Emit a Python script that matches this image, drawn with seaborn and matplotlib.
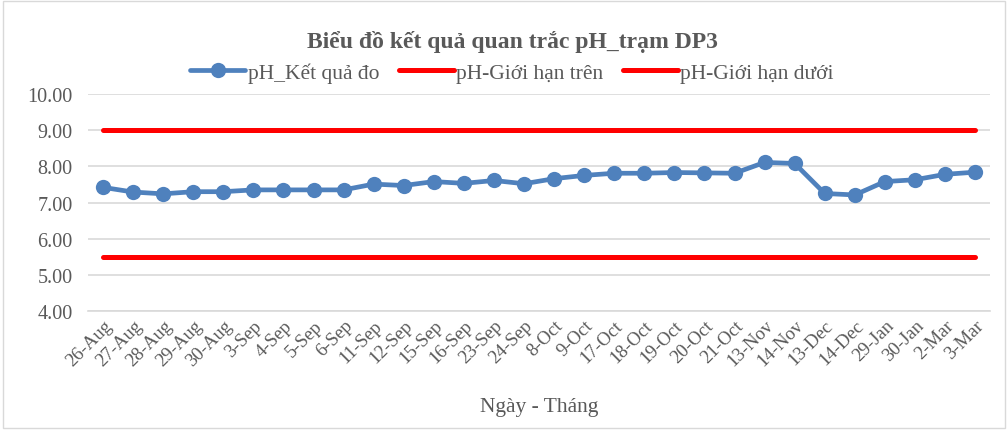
import matplotlib
matplotlib.use("Agg")
import matplotlib.pyplot as plt
import seaborn as sns
import pandas as pd

dates = ["26-Aug", "27-Aug", "28-Aug", "29-Aug", "30-Aug", "3-Sep", "4-Sep", "5-Sep",
         "6-Sep", "11-Sep", "12-Sep", "15-Sep", "16-Sep", "23-Sep", "24-Sep", "8-Oct",
         "9-Oct", "17-Oct", "18-Oct", "19-Oct", "20-Oct", "21-Oct", "13-Nov", "14-Nov",
         "13-Dec", "14-Dec", "29-Jan", "30-Jan", "2-Mar", "3-Mar"]
ph_values = [7.42, 7.29, 7.24, 7.30, 7.30, 7.35, 7.35, 7.35, 7.35, 7.51, 7.47, 7.58,
             7.53, 7.61, 7.52, 7.66, 7.75, 7.81, 7.81, 7.83, 7.82, 7.81, 8.11, 8.08,
             7.25, 7.21, 7.58, 7.63, 7.78, 7.84]
upper_limit = [9.0] * len(dates)
lower_limit = [5.5] * len(dates)
yticks = [4, 5, 6, 7, 8, 9, 10]

sns.set_theme(style="white")
plt.rcParams['font.family'] = ['Liberation Serif', 'DejaVu Serif']

df = pd.DataFrame({"idx": range(len(dates)), "date": dates, "ph": ph_values,
                   "upper": upper_limit, "lower": lower_limit})

fig = plt.figure(figsize=(10.08, 4.31), dpi=100)
ax = fig.add_axes([0.0873, 0.276, 0.895, 0.5035])

grey = "#595959"
sns.lineplot(data=df, x="idx", y="ph", ax=ax, color="#4F81BD", linewidth=3.4,
             marker="o", markersize=11, markeredgewidth=0, label="pH_Kết quả đo", zorder=3)
sns.lineplot(data=df, x="idx", y="upper", ax=ax, color="#FF0000", linewidth=3.6,
             label="pH-Giới hạn trên", zorder=2)
sns.lineplot(data=df, x="idx", y="lower", ax=ax, color="#FF0000", linewidth=3.6,
             label="pH-Giới hạn dưới", zorder=2)

ax.set_xlim(-0.5, len(dates) - 0.5)
ax.set_ylim(4, 10)
ax.set_yticks(yticks)
ax.set_yticklabels([f"{v:.2f}" for v in yticks], fontsize=14.5, color=grey)
ax.set_xticks(range(len(dates)))
ax.set_xticklabels(dates, rotation=45, ha="right", rotation_mode="anchor",
                   fontsize=13.5, color=grey)
ax.set_xticks([i - 0.5 for i in range(len(dates) + 1)], minor=True)
ax.tick_params(axis="x", which="major", length=0, pad=4)
ax.tick_params(axis="x", which="minor", length=5, color="#D9D9D9", width=1)
ax.tick_params(axis="y", length=0, pad=11)
ax.grid(axis="y", color="#D9D9D9", linewidth=1.2)
ax.set_axisbelow(True)
for s in ["top", "right", "left"]:
    ax.spines[s].set_visible(False)
ax.spines["bottom"].set_color("#D9D9D9")
ax.spines["bottom"].set_linewidth(1.2)

ax.set_xlabel("Ngày - Tháng", fontsize=15.5, color=grey, labelpad=20)
ax.set_ylabel("")

fig.text(0.508, 0.902, "Biểu đồ kết quả quan trắc pH_trạm DP3", ha="center", va="center",
         fontsize=17, fontweight="bold", color=grey)
leg = ax.legend(loc="center", bbox_to_anchor=(0.47, 1.10), ncol=3, frameon=False,
                fontsize=15.5, handlelength=2.55, columnspacing=0.9, handletextpad=0.12)
for t in leg.get_texts():
    t.set_color(grey)

border = plt.Rectangle((0.003, 0.004), 0.994, 0.992, transform=fig.transFigure,
                       fill=False, edgecolor="#D9D9D9", linewidth=1)
fig.patches.append(border)

fig.savefig("out.png", dpi=100)
